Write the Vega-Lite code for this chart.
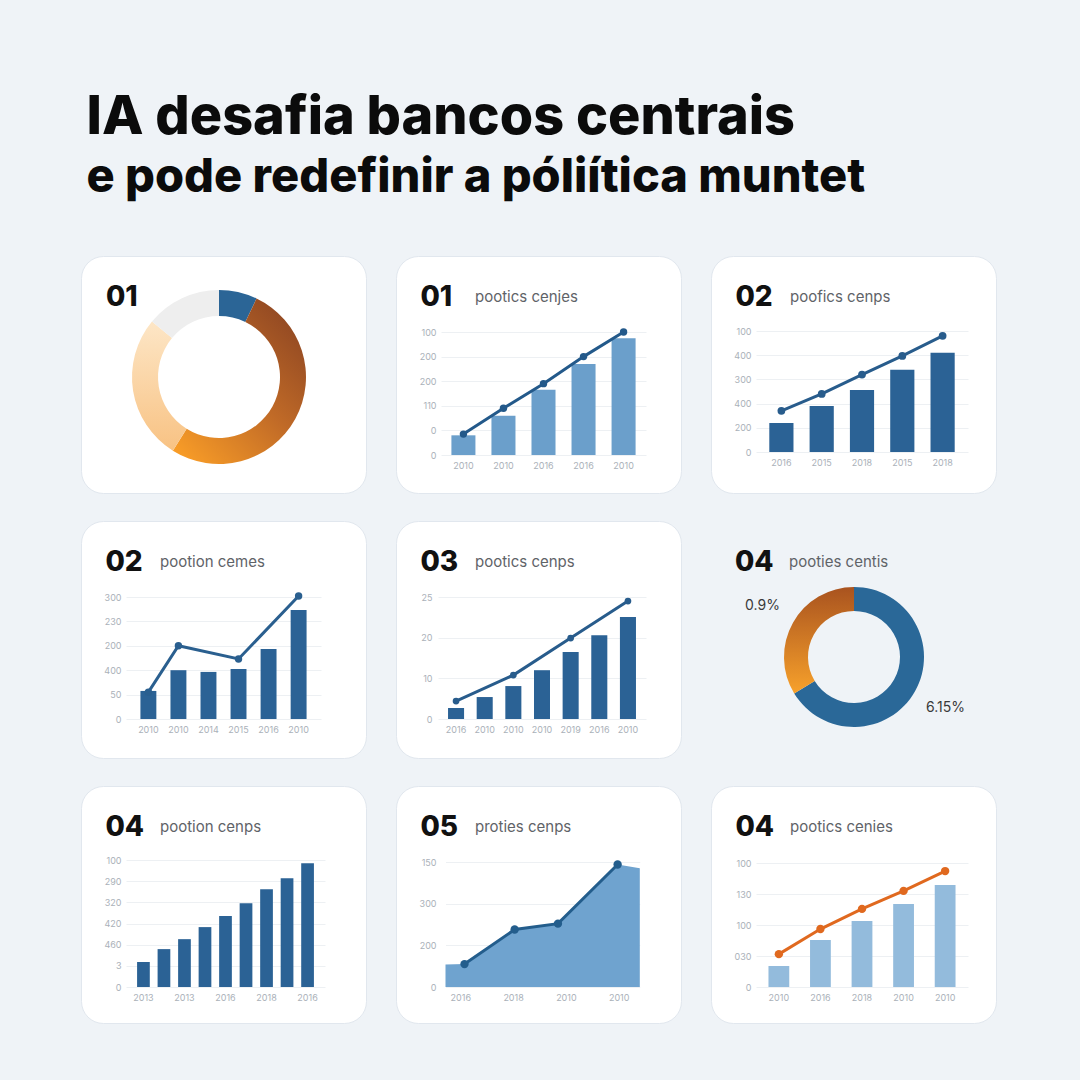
{
  "$schema": "https://vega.github.io/schema/vega-lite/v6.json",
  "background": "#eff3f7",
  "padding": {"left": 80, "top": 90, "right": 85, "bottom": 56},
  "title": {
    "text": "IA desafia bancos centrais",
    "subtitle": "e pode redefinir a póliítica muntet",
    "anchor": "start", "dx": 6, "offset": 55,
    "font": "Inter", "fontSize": 54, "fontWeight": 800, "color": "#0b0b0b",
    "subtitleFont": "Inter", "subtitleFontSize": 47, "subtitleFontWeight": 800, "subtitleColor": "#0b0b0b",
    "subtitlePadding": 10
  },
  "config": {
    "view": {"fill": "#ffffff", "cornerRadius": 22, "stroke": "#e1e7ee", "strokeWidth": 1},
    "title": {
      "anchor": "start", "dx": 25, "offset": -56,
      "font": "Inter", "fontSize": 28, "fontWeight": 800, "color": "#111111"
    },
    "axis": {"domain": false, "ticks": false, "labelFont": "Inter", "labelFontSize": 9, "labelColor": "#aab1b9", "gridColor": "#edf0f3", "labelOverlap": false, "labelFlush": false}
  },
  "spacing": 26,
  "vconcat": [
    {
      "spacing": 28,
      "hconcat": [
        {
          "width": 285, "height": 237,
          "view": {"style": "cell"},
          "title": {"text": "01"},
          "data": {"values": [
            {"s": "a", "v": 7.1, "o": 1},
            {"s": "b", "v": 51.8, "o": 2},
            {"s": "c", "v": 27.1, "o": 3},
            {"s": "d", "v": 14.0, "o": 4}
          ]},
          "mark": {"type": "arc", "innerRadius": 61, "outerRadius": 87, "xOffset": -4.5, "yOffset": 2.5},
          "encoding": {
            "theta": {"field": "v", "type": "quantitative", "stack": true},
            "order": {"field": "o", "type": "ordinal"},
            "fill": {
              "condition": [
                {"test": "datum.s === 'a'", "value": "#2b6596"},
                {"test": "datum.s === 'b'", "value": {"gradient": "linear", "x1": 0.9, "y1": 0, "x2": 0.1, "y2": 1, "stops": [{"offset": 0, "color": "#8a4322"}, {"offset": 0.5, "color": "#c06a27"}, {"offset": 1, "color": "#f99d27"}]}},
                {"test": "datum.s === 'c'", "value": {"gradient": "linear", "x1": 0, "y1": 0, "x2": 0, "y2": 1, "stops": [{"offset": 0, "color": "#fde6c6"}, {"offset": 1, "color": "#f8c283"}]}}
              ],
              "value": "#eeeeee"
            }
          }
        },
        {
          "title": {"text": "01"},
          "hconcat": [{
            "width": 285, "height": 237,
            "title": {"text": "pootics cenjes", "fontSize": 15, "fontWeight": "normal", "color": "#5f6368", "dx": 79, "offset": -49},
            "data": {"values": [
              {"i": 1, "bar": 80, "line": 85},
              {"i": 2, "bar": 160, "line": 190},
              {"i": 3, "bar": 265, "line": 290},
              {"i": 4, "bar": 370, "line": 400},
              {"i": 5, "bar": 475, "line": 500}
            ]},
            "encoding": {
              "x": {"field": "i", "type": "ordinal", "title": null,
                "scale": {"range": [45, 250], "paddingInner": 0.4, "paddingOuter": 0.26},
                "axis": {"offset": -38, "labelPadding": 6, "labelAngle": 0, "grid": false, "labelExpr": "['','2010','2010','2016','2016','2010'][datum.value]"}}
            },
            "layer": [
              {"mark": {"type": "bar", "color": "#6b9fcb"},
                "encoding": {"y": {"field": "bar", "type": "quantitative", "title": null,
                  "scale": {"domain": [0, 500], "range": [199, 76], "nice": false},
                  "axis": {"offset": -44, "labelPadding": 4, "values": [0, 100, 200, 300, 400, 500], "labelExpr": "['0','0','110','200','200','100'][datum.value/100]"}}}},
              {"mark": {"type": "line", "color": "#23598a", "strokeWidth": 3, "point": {"filled": true, "size": 55, "color": "#23598a"}},
                "encoding": {"y": {"field": "line", "type": "quantitative", "title": null}}}
            ]
          }]
        },
        {
          "title": {"text": "02"},
          "hconcat": [{
            "width": 285, "height": 237,
            "title": {"text": "poofics cenps", "fontSize": 15, "fontWeight": "normal", "color": "#5f6368", "dx": 79, "offset": -49},
            "data": {"values": [
              {"i": 1, "bar": 120, "line": 170},
              {"i": 2, "bar": 190, "line": 240},
              {"i": 3, "bar": 256, "line": 320},
              {"i": 4, "bar": 340, "line": 397},
              {"i": 5, "bar": 410, "line": 480}
            ]},
            "encoding": {
              "x": {"field": "i", "type": "ordinal", "title": null,
                "scale": {"range": [45, 257], "paddingInner": 0.4, "paddingOuter": 0.33},
                "axis": {"offset": -41, "labelPadding": 6, "labelAngle": 0, "grid": false, "labelExpr": "['','2016','2015','2018','2015','2018'][datum.value]"}}
            },
            "layer": [
              {"mark": {"type": "bar", "color": "#2b6295"},
                "encoding": {"y": {"field": "bar", "type": "quantitative", "title": null,
                  "scale": {"domain": [0, 500], "range": [196, 75], "nice": false},
                  "axis": {"offset": -44, "labelPadding": 4, "values": [0, 100, 200, 300, 400, 500], "labelExpr": "['0','200','400','300','400','100'][datum.value/100]"}}}},
              {"mark": {"type": "line", "color": "#285c8c", "strokeWidth": 3, "point": {"filled": true, "size": 60, "color": "#285c8c"}},
                "encoding": {"y": {"field": "line", "type": "quantitative", "title": null}}}
            ]
          }]
        }
      ]
    },
    {
      "spacing": 28,
      "hconcat": [
        {
          "title": {"text": "02"},
          "hconcat": [{
            "width": 285, "height": 237,
            "title": {"text": "pootion cemes", "fontSize": 15, "fontWeight": "normal", "color": "#5f6368", "dx": 79, "offset": -49},
            "data": {"values": [
              {"i": 1, "bar": 115, "line": 110},
              {"i": 2, "bar": 200, "line": 300},
              {"i": 3, "bar": 193, "line": null},
              {"i": 4, "bar": 205, "line": 246},
              {"i": 5, "bar": 287, "line": null},
              {"i": 6, "bar": 447, "line": 504}
            ]},
            "encoding": {
              "x": {"field": "i", "type": "ordinal", "title": null,
                "scale": {"range": [45, 240], "paddingInner": 0.47, "paddingOuter": 0.48},
                "axis": {"offset": -39, "labelPadding": 6, "labelAngle": 0, "grid": false, "labelExpr": "['','2010','2010','2014','2015','2016','2010'][datum.value]"}}
            },
            "layer": [
              {"mark": {"type": "bar", "color": "#2b6295"},
                "encoding": {"y": {"field": "bar", "type": "quantitative", "title": null,
                  "scale": {"domain": [0, 500], "range": [198, 76], "nice": false},
                  "axis": {"offset": -44, "labelPadding": 4, "values": [0, 100, 200, 300, 400, 500], "labelExpr": "['0','50','400','200','230','300'][datum.value/100]"}}}},
              {"transform": [{"filter": "datum.line != null"}],
                "mark": {"type": "line", "color": "#2a5f8f", "strokeWidth": 3, "point": {"filled": true, "size": 55, "color": "#2a5f8f"}},
                "encoding": {"y": {"field": "line", "type": "quantitative", "title": null}}}
            ]
          }]
        },
        {
          "title": {"text": "03"},
          "hconcat": [{
            "width": 285, "height": 237,
            "title": {"text": "pootics cenps", "fontSize": 15, "fontWeight": "normal", "color": "#5f6368", "dx": 79, "offset": -49},
            "data": {"values": [
              {"i": 1, "bar": 2.7, "line": 4.4},
              {"i": 2, "bar": 5.4, "line": null},
              {"i": 3, "bar": 8.1, "line": 10.8},
              {"i": 4, "bar": 12.0, "line": null},
              {"i": 5, "bar": 16.5, "line": 19.9},
              {"i": 6, "bar": 20.6, "line": null},
              {"i": 7, "bar": 25.1, "line": 29.0}
            ]},
            "encoding": {
              "x": {"field": "i", "type": "ordinal", "title": null,
                "scale": {"range": [42, 250], "paddingInner": 0.44, "paddingOuter": 0.35},
                "axis": {"offset": -39, "labelPadding": 6, "labelAngle": 0, "grid": false, "labelExpr": "['','2016','2010','2010','2010','2019','2016','2010'][datum.value]"}}
            },
            "layer": [
              {"mark": {"type": "bar", "color": "#2b6295"},
                "encoding": {"y": {"field": "bar", "type": "quantitative", "title": null,
                  "scale": {"domain": [0, 30], "range": [198, 76], "nice": false},
                  "axis": {"offset": -40, "labelPadding": 4, "values": [0, 10, 20, 30], "labelExpr": "['0','10','20','25'][datum.value/10]"}}}},
              {"transform": [{"filter": "datum.line != null"}],
                "mark": {"type": "line", "color": "#285c8c", "strokeWidth": 3, "point": {"filled": true, "size": 45, "color": "#285c8c"}},
                "encoding": {"y": {"field": "line", "type": "quantitative", "title": null}}}
            ]
          }]
        },
        {
          "title": {"text": "04"},
          "hconcat": [{
            "width": 285, "height": 237,
            "view": {"style": "cell"},
            "title": {"text": "pooties centis", "fontSize": 15, "fontWeight": "normal", "color": "#5f6368", "dx": 79, "offset": -49},
            "data": {"values": [
              {"s": "a", "v": 66.3, "o": 1, "lab": "6.15%"},
              {"s": "b", "v": 33.7, "o": 2, "lab": "0.9%"}
            ]},
            "encoding": {
              "theta": {"field": "v", "type": "quantitative", "stack": true},
              "order": {"field": "o", "type": "ordinal"}
            },
            "layer": [
              {"mark": {"type": "arc", "innerRadius": 46, "outerRadius": 70, "xOffset": 1.5, "yOffset": 17.5},
                "encoding": {"fill": {"condition": {"test": "datum.s === 'a'", "value": "#2a6898"},
                  "value": {"gradient": "linear", "x1": 0, "y1": 0, "x2": 0, "y2": 1, "stops": [{"offset": 0, "color": "#a9531f"}, {"offset": 1, "color": "#f7a12b"}]}}}},
              {"mark": {"type": "text", "radius": 105, "xOffset": 1.5, "yOffset": 17.5, "font": "Inter", "fontSize": 14, "color": "#3a3a3a"},
                "encoding": {"text": {"field": "lab"}}}
            ]
          }]
        }
      ]
    },
    {
      "spacing": 28,
      "hconcat": [
        {
          "title": {"text": "04"},
          "hconcat": [{
            "width": 285, "height": 237,
            "title": {"text": "pootion cenps", "fontSize": 15, "fontWeight": "normal", "color": "#5f6368", "dx": 79, "offset": -49},
            "data": {"values": [
              {"i": 1, "bar": 118},
              {"i": 2, "bar": 179},
              {"i": 3, "bar": 226},
              {"i": 4, "bar": 283},
              {"i": 5, "bar": 335},
              {"i": 6, "bar": 396},
              {"i": 7, "bar": 462},
              {"i": 8, "bar": 514},
              {"i": 9, "bar": 585}
            ]},
            "mark": {"type": "bar", "color": "#2b6295"},
            "encoding": {
              "x": {"field": "i", "type": "ordinal", "title": null,
                "scale": {"range": [45, 244], "paddingInner": 0.38, "paddingOuter": 0.54},
                "axis": {"offset": -36, "labelPadding": 6, "labelAngle": 0, "grid": false, "values": [1, 3, 5, 7, 9], "labelExpr": "['','2013','','2013','','2016','','2018','','2016'][datum.value]"}},
              "y": {"field": "bar", "type": "quantitative", "title": null,
                "scale": {"domain": [0, 600], "range": [201, 74], "nice": false},
                "axis": {"offset": -44, "labelPadding": 4, "values": [0, 100, 200, 300, 400, 500, 600], "labelExpr": "['0','3','460','420','320','290','100'][datum.value/100]"}}
            }
          }]
        },
        {
          "title": {"text": "05"},
          "hconcat": [{
            "width": 285, "height": 237,
            "title": {"text": "proties cenps", "fontSize": 15, "fontWeight": "normal", "color": "#5f6368", "dx": 79, "offset": -49},
            "data": {"values": [
              {"t": 0.72, "area": 54, "line": null},
              {"t": 1.08, "area": 55, "line": 55},
              {"t": 2.03, "area": 138, "line": 138},
              {"t": 2.85, "area": 152, "line": 152},
              {"t": 3.98, "area": 294, "line": 294},
              {"t": 4.4, "area": 285, "line": null}
            ]},
            "encoding": {
              "x": {"field": "t", "type": "quantitative", "title": null,
                "scale": {"domain": [0.72, 4.4], "range": [49.5, 243.8], "nice": false, "zero": false},
                "axis": {"offset": -36, "labelPadding": 6, "grid": false, "values": [1, 2, 3, 4], "labelExpr": "['','2016','2018','2010','2010'][datum.value]"}}
            },
            "layer": [
              {"mark": {"type": "area", "color": "#6fa3cf"},
                "encoding": {"y": {"field": "area", "type": "quantitative", "title": null,
                  "scale": {"domain": [0, 300], "range": [201, 76], "nice": false},
                  "axis": {"offset": -44, "labelPadding": 4, "values": [0, 50, 100, 150, 200, 250, 300], "labelExpr": "['0','','200','','300','','150'][datum.value/50]"}}}},
              {"transform": [{"filter": "datum.line != null"}],
                "mark": {"type": "line", "color": "#235d8c", "strokeWidth": 3, "point": {"filled": true, "size": 70, "color": "#235d8c"}},
                "encoding": {"y": {"field": "line", "type": "quantitative", "title": null}}}
            ]
          }]
        },
        {
          "title": {"text": "04"},
          "hconcat": [{
            "width": 285, "height": 237,
            "title": {"text": "pootics cenies", "fontSize": 15, "fontWeight": "normal", "color": "#5f6368", "dx": 79, "offset": -49},
            "data": {"values": [
              {"i": 1, "bar": 68, "line": 106},
              {"i": 2, "bar": 152, "line": 187},
              {"i": 3, "bar": 213, "line": 252},
              {"i": 4, "bar": 268, "line": 310},
              {"i": 5, "bar": 329, "line": 374}
            ]},
            "encoding": {
              "x": {"field": "i", "type": "ordinal", "title": null,
                "scale": {"range": [45, 257], "paddingInner": 0.5, "paddingOuter": 0.3},
                "axis": {"offset": -36, "labelPadding": 6, "labelAngle": 0, "grid": false, "labelExpr": "['','2010','2016','2018','2010','2010'][datum.value]"}}
            },
            "layer": [
              {"mark": {"type": "bar", "color": "#93bbdc"},
                "encoding": {"y": {"field": "bar", "type": "quantitative", "title": null,
                  "scale": {"domain": [0, 400], "range": [201, 77], "nice": false},
                  "axis": {"offset": -44, "labelPadding": 4, "values": [0, 100, 200, 300, 400], "labelExpr": "['0','030','100','130','100'][datum.value/100]"}}}},
              {"mark": {"type": "line", "color": "#e0691f", "strokeWidth": 3, "point": {"filled": true, "size": 70, "color": "#e0691f"}},
                "encoding": {"y": {"field": "line", "type": "quantitative", "title": null}}}
            ]
          }]
        }
      ]
    }
  ]
}
